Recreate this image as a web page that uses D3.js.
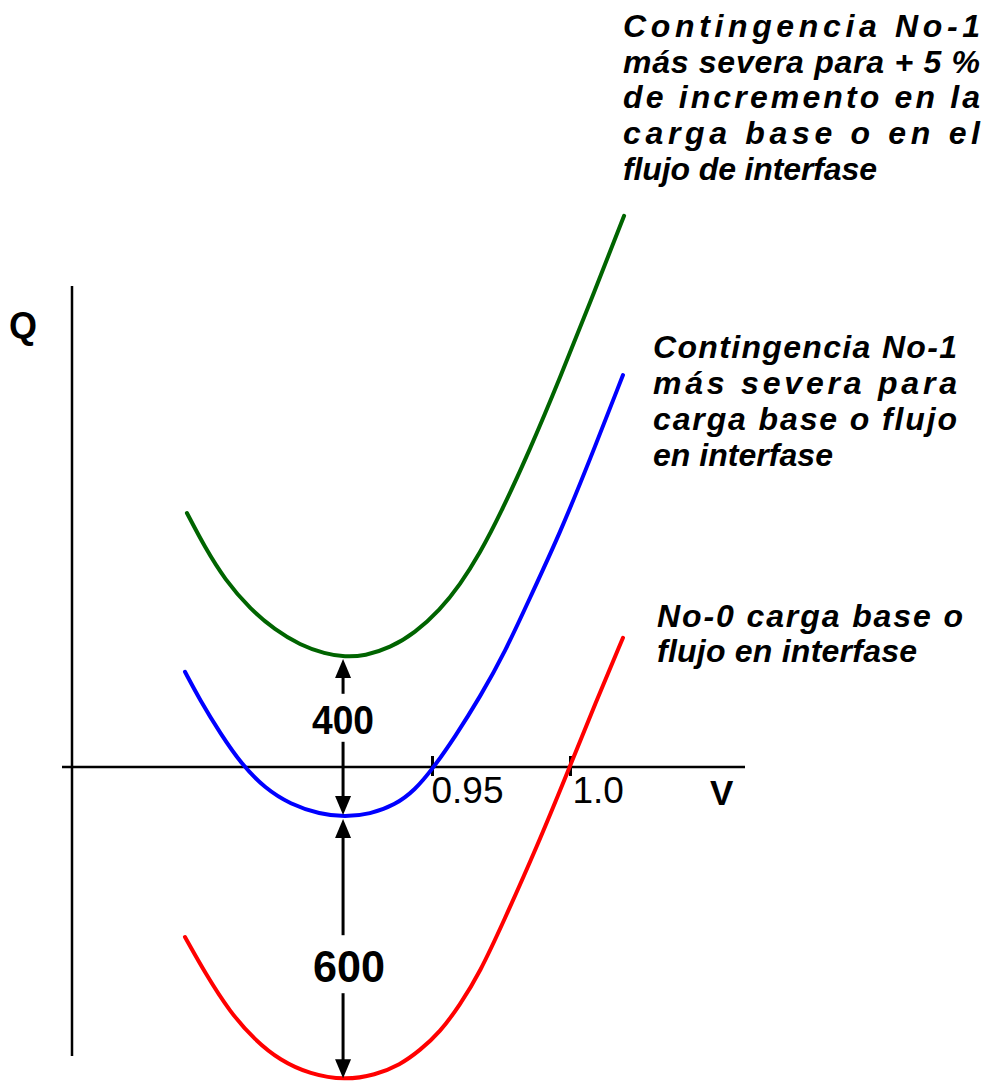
<!DOCTYPE html>
<html><head><meta charset="utf-8">
<script src="https://cdn.jsdelivr.net/npm/d3@7"></script>
<style>
html,body{margin:0;padding:0;background:#fff;}
svg{display:block;}
text{font-family:"Liberation Sans",Arial,Helvetica,sans-serif;fill:#000;}
</style>
</head><body>
<svg id="chart" width="990" height="1081"></svg>
<script>
// ---- data (V in p.u., Q in MVAr) ----
const vGreen = [0.8612,0.8678,0.8750,0.8841,0.8931,0.9022,0.9112,0.9185,0.9257,0.9348,0.9438,0.9529,0.9601,0.9674,0.9746,0.9855,0.9964,1.0072,1.0196];
const qGreen = [635,548,468,395,343,305,283,275,278,298,335,393,455,535,630,793,973,1160,1378];
const vBlue  = [0.8605,0.8659,0.8732,0.8812,0.8895,0.8986,0.9094,0.9185,0.9275,0.9366,0.9438,0.9504,0.9583,0.9674,0.9765,0.9855,0.9964,1.0072,1.0192];
const qBlue  = [238,168,85,5,-53,-93,-118,-125,-118,-95,-58,-3,75,175,288,423,585,768,980];
const vRed   = [0.8605,0.8678,0.8768,0.8859,0.8949,0.9058,0.9185,0.9294,0.9384,0.9457,0.9529,0.9601,0.9674,0.9757,0.9880,0.9993,1.0091,1.0192];
const qRed   = [-425,-515,-613,-683,-733,-768,-783,-770,-745,-708,-663,-595,-513,-390,-200,-10,158,323];
const seriesColors = ["#006400","#0000ff","#ff0000"];
const tickValues = [0.95, 1.0];
const tickLabels = ["0.95", "1.0"];
const axisLabelX = "V";
const axisLabelY = "Q";
// margin annotations: value, V position, Q from, Q to, Q of label centre
const gapLabels = ["400", "600"];
const gapV = [0.9185, 0.9185];
const gapFrom = [-125, -125];
const gapTo = [275, -783];
const gapLabelQ = [118, -498];
// curve labels
const label1 = ["Contingencia No-1","más severa para + 5 %","de incremento en la","carga base o en el","flujo de interfase"];
const label2 = ["Contingencia No-1","más severa para","carga base o  flujo","en interfase"];
const label3 = ["No-0 carga base o","flujo en interfase"];

// ---- layout ----
const svg = d3.select("#chart");
const x = d3.scaleLinear().domain([0.95, 1.0]).range([432, 570]);
const y = d3.scaleLinear().domain([0, 400]).range([767, 607]);

// axes
svg.append("line").attr("x1", 62).attr("x2", 745).attr("y1", y(0)).attr("y2", y(0))
  .attr("stroke", "#000").attr("stroke-width", 2.5);
svg.append("line").attr("x1", 72).attr("x2", 72).attr("y1", 286).attr("y2", 1056)
  .attr("stroke", "#000").attr("stroke-width", 2.5);

const xAxis = d3.axisBottom(x).tickValues(tickValues).tickFormat((d,i)=>tickLabels[i]).tickSizeOuter(0);
const gx = svg.append("g").attr("transform", `translate(0,${y(0)})`).call(xAxis);
gx.select(".domain").remove();
gx.selectAll(".tick line").attr("y1", -11).attr("y2", 9).attr("stroke", "#000").attr("stroke-width", 3);
gx.selectAll(".tick text").attr("text-anchor", "start").attr("x", (d,i) => i === 0 ? -1 : 2).attr("y", 36).attr("dy", 0)
  .style("font-size", "37px").style("font-family", '"Liberation Sans",Arial,sans-serif').attr("fill", "#000");

svg.append("text").attr("x", 710).attr("y", 805).style("font-size", "35px").style("font-weight", "bold").text(axisLabelX);
svg.append("text").attr("x", 9).attr("y", 338).style("font-size", "36px").style("font-weight", "bold").text(axisLabelY);

// curves
const series = [
  d3.zip(vGreen, qGreen),
  d3.zip(vBlue, qBlue),
  d3.zip(vRed, qRed)
];
const line = d3.line().x(d => x(d[0])).y(d => y(d[1])).curve(d3.curveBasis);
svg.selectAll("path.curve").data(series).join("path").attr("class", "curve")
  .attr("d", line).attr("fill", "none").attr("stroke", (d,i) => seriesColors[i])
  .attr("stroke-width", 4).attr("stroke-linecap", "round").attr("stroke-linejoin", "round");

// gap arrows
function arrowHead(px, py, dir) { // dir: -1 up, +1 down; tip at (px,py)
  const L = 19, W = 8;
  return `M${px},${py} L${px-W},${py - dir*L} L${px+W},${py - dir*L} Z`;
}
gapLabels.forEach((lab, i) => {
  const ax = x(gapV[i]) - 2;
  const yFrom = y(gapFrom[i]), yTo = y(gapTo[i]), yLab = y(gapLabelQ[i]);
  const top = Math.min(yFrom, yTo) + 2, bot = Math.max(yFrom, yTo) - 2;
  const half = i === 0 ? 26 : 31;
  svg.append("line").attr("x1", ax).attr("x2", ax).attr("y1", top + 10).attr("y2", yLab - half)
    .attr("stroke", "#000").attr("stroke-width", 3);
  svg.append("line").attr("x1", ax).attr("x2", ax).attr("y1", yLab + half - 4).attr("y2", bot - 10)
    .attr("stroke", "#000").attr("stroke-width", 3);
  svg.append("path").attr("d", arrowHead(ax, top, -1)).attr("fill", "#000");
  svg.append("path").attr("d", arrowHead(ax, bot, 1)).attr("fill", "#000");
  const fs = i === 0 ? 40 : 44;
  svg.append("text").attr("x", ax + (i === 0 ? 0 : 6)).attr("y", yLab + fs*0.36)
    .attr("text-anchor", "middle").style("font-size", fs + "px").style("font-weight", "bold")
    .attr("textLength", i === 0 ? 62 : 72).attr("lengthAdjust", "spacingAndGlyphs").text(lab);
});

// curve labels
function block(lines, x0, y0, dy, widths) {
  lines.forEach((t, i) => {
    svg.append("text").attr("x", x0).attr("y", y0 + i*dy)
      .style("font-size", "32px").style("font-weight", "bold").style("font-style", "italic")
      .attr("textLength", widths[i]).attr("lengthAdjust", "spacing").text(t);
  });
}
block(label1, 623, 37, 35.7, [357, 357, 357, 357, 254]);
block(label2, 653, 358, 36, [304, 304, 304, 180]);
block(label3, 657, 627, 35, [306, 260]);
</script>
</body></html>
